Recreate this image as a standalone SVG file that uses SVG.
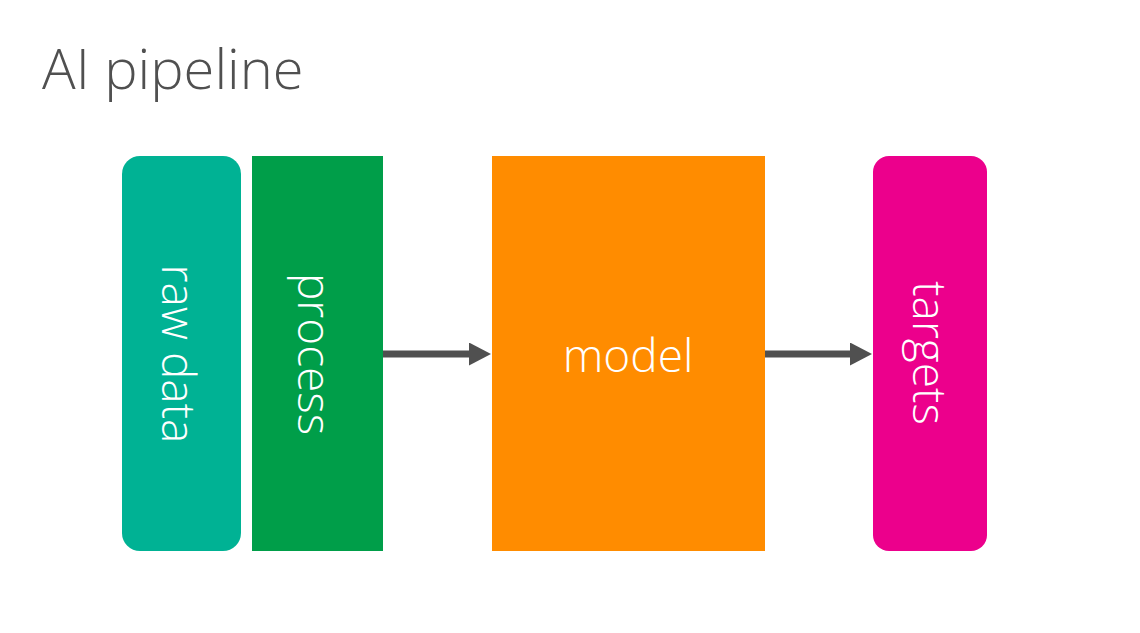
<svg xmlns="http://www.w3.org/2000/svg" width="1140" height="633" viewBox="0 0 1140 633">
<style>
.lbl{font-family:"Open Sans","Liberation Sans",sans-serif;font-weight:300;font-size:46px;fill:#ffffff;text-anchor:middle}
.title{font-family:"Open Sans","Liberation Sans",sans-serif;font-weight:300;font-size:56px;fill:#505050}
.conn{stroke:#505050;stroke-width:7;fill:none}
</style>
<defs>
<marker id="ah" markerUnits="userSpaceOnUse" markerWidth="23" markerHeight="23" refX="8" refY="11.5" orient="auto">
<path d="M0,0 L22,11.5 L0,23 Z" fill="#505050"/>
</marker>
</defs>
<rect width="1140" height="633" fill="#ffffff"/>
<text class="title" x="42" y="89">AI pipeline</text>
<g id="raw-data">
<rect x="122" y="156" width="119" height="395" rx="18" fill="#00B294"/>
<text class="lbl" transform="translate(162,354) rotate(90)">raw data</text>
</g>
<g id="process">
<rect x="252" y="156" width="131" height="395" fill="#009E49"/>
<text class="lbl" transform="translate(298,354) rotate(90)">process</text>
</g>
<g id="model">
<rect x="492" y="156" width="273" height="395" fill="#FF8C00"/>
<text class="lbl" x="628" y="372">model</text>
</g>
<g id="targets">
<rect x="873" y="156" width="114" height="395" rx="16" fill="#EC008C"/>
<text class="lbl" transform="translate(913,353) rotate(90)">targets</text>
</g>
<g id="connectors">
<line class="conn" x1="383" y1="354" x2="477" y2="354" marker-end="url(#ah)"/>
<line class="conn" x1="765" y1="354" x2="858" y2="354" marker-end="url(#ah)"/>
</g>
</svg>
